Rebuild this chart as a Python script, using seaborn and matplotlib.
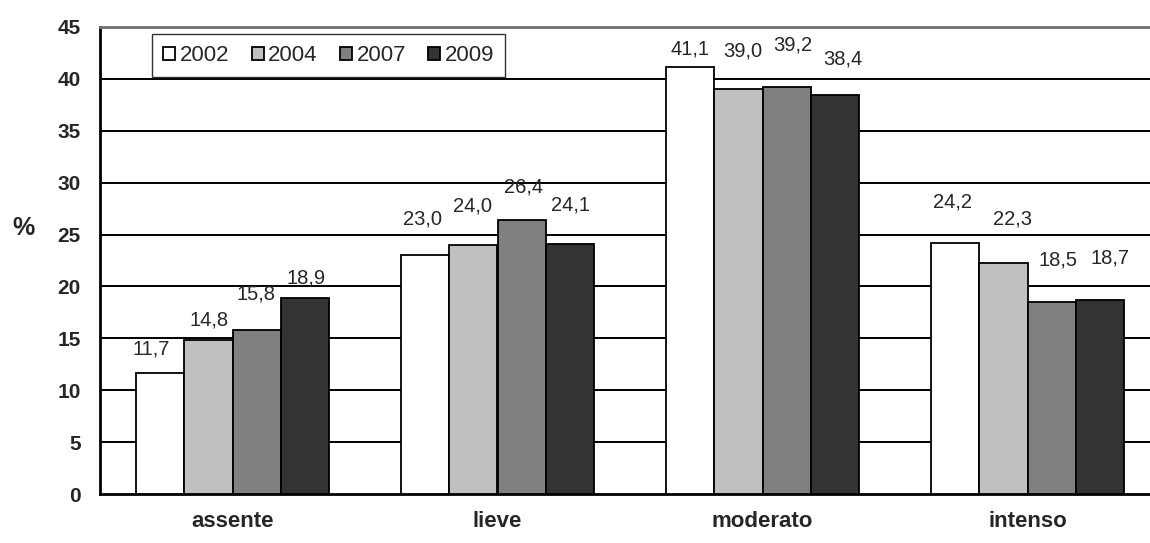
import matplotlib
matplotlib.use("Agg")
import matplotlib.pyplot as plt
import seaborn as sns
import pandas as pd

# ---- data ----
categories = ["assente", "lieve", "moderato", "intenso"]
years = ["2002", "2004", "2007", "2009"]
v2002 = [11.7, 23.0, 41.1, 24.2]
v2004 = [14.8, 24.0, 39.0, 22.3]
v2007 = [15.8, 26.4, 39.2, 18.5]
v2009 = [18.9, 24.1, 38.4, 18.7]
yticks = [0, 5, 10, 15, 20, 25, 30, 35, 40, 45]

series = [v2002, v2004, v2007, v2009]
colors = ["#FFFFFF", "#C0C0C0", "#808080", "#333333"]

# label offsets (pixels) relative to bar top centre, per year / category
label_offsets = [
    [(-9, 24), (-2, 36), (0, 18), (-2, 41)],
    [(1, 20), (-1, 39), (4, 38), (9, 44)],
    [(-1, 36), (2, 33), (6, 42), (6, 42)],
    [(1, 20), (0, 39), (8, 36), (10, 42)],
]

rows = []
for y, vals in zip(years, series):
    for c, v in zip(categories, vals):
        rows.append({"cat": c, "year": y, "val": v})
df = pd.DataFrame(rows)

sns.set_style("white")
plt.rcParams["font.family"] = ["Liberation Sans", "DejaVu Sans"]

fig = plt.figure(figsize=(11.5, 5.43), dpi=100)
ax = fig.add_axes([100 / 1150, 49 / 543, 1060 / 1150, 467 / 543])

sns.barplot(data=df, x="cat", y="val", hue="year", order=categories,
            hue_order=years, palette=colors, width=0.73, ax=ax,
            edgecolor="black", linewidth=1.3, saturation=1, errorbar=None,
            zorder=3)

ax.set_xlim(-0.5, 3.5)
ax.set_ylim(0, 45)
ax.set_yticks(yticks)
ax.set_yticklabels([str(t) for t in yticks], fontsize=15, fontweight="bold")

# gridlines
for t in yticks[1:-1]:
    ax.axhline(t, color="black", linewidth=1.4, zorder=1)

ax.set_xticks(range(len(categories)))
ax.set_xticklabels(categories, fontsize=16, fontweight="bold")
ax.tick_params(axis="x", which="major", length=0, pad=12)
ax.set_xticks([-0.5, 0.5, 1.5, 2.5, 3.5], minor=True)
ax.tick_params(axis="x", which="minor", length=6, width=1.5, direction="out",
               color="black")
ax.tick_params(axis="y", length=6, width=1.5, direction="out", color="black",
               pad=8)

for side in ["left", "bottom"]:
    ax.spines[side].set_color("black")
    ax.spines[side].set_linewidth(2)
ax.spines["top"].set_color("#707070")
ax.spines["top"].set_linewidth(2)
ax.spines["right"].set_visible(False)

ax.set_xlabel("")
ax.set_ylabel("%", fontsize=18, fontweight="bold", rotation=0, labelpad=30,
              va="center")
ax.yaxis.set_label_coords(-0.072, 0.57)

# value labels
for yi, cont in enumerate(ax.containers):
    for ci, bar in enumerate(cont):
        h = bar.get_height()
        xc = bar.get_x() + bar.get_width() / 2
        dx, dy = label_offsets[yi][ci]
        ax.annotate(f"{series[yi][ci]:.1f}".replace(".", ","),
                    xy=(xc, h), xytext=(dx, dy), textcoords="offset pixels",
                    ha="center", va="center", fontsize=14.5, zorder=5)

handles, labels = ax.get_legend_handles_labels()
if ax.get_legend() is not None:
    ax.get_legend().remove()
leg = ax.legend(handles, labels, ncol=4, loc="upper left",
                bbox_to_anchor=(52 / 1060, (494 - 34) / 467),
                borderaxespad=0, frameon=True, fancybox=False,
                edgecolor="black", fontsize=16, handlelength=0.55,
                handleheight=0.55, handletextpad=0.2, columnspacing=1.0,
                borderpad=0.5)
leg.get_frame().set_linewidth(1.0)
leg.set_zorder(6)

fig.savefig("out.png", dpi=100)
